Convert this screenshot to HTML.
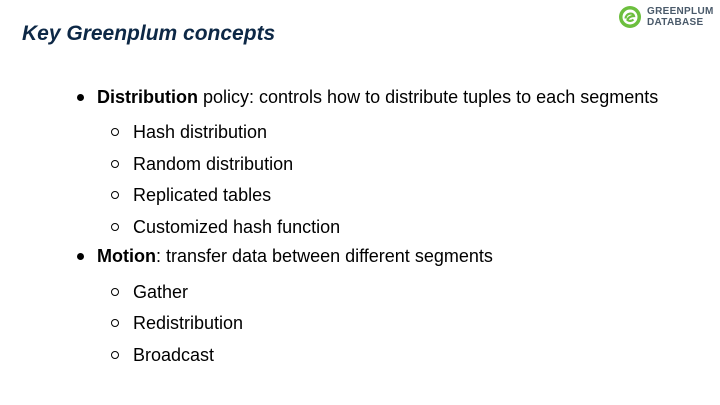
<!DOCTYPE html>
<html><head><style>
body{margin:0;width:720px;height:405px;background:#fff;position:relative;overflow:hidden;font-family:"Liberation Sans",sans-serif;color:#000}
.t{position:absolute;left:22px;top:22px;font-size:21px;font-weight:bold;font-style:italic;color:#0d2846;font-family:"Liberation Sans",sans-serif}
.l{position:absolute;font-size:18px;line-height:20px;white-space:nowrap}
.d{position:absolute;width:7px;height:7px;border-radius:50%;background:#000}
.c{position:absolute;width:6px;height:6px;border-radius:50%;border:1.5px solid #000}
.logo{position:absolute;left:618px;top:5px}
.lt{position:absolute;left:647px;top:6px;font-size:10px;font-weight:bold;color:#4a5a6a;line-height:11px;letter-spacing:0.3px}
</style></head><body>
<div class="t">Key Greenplum concepts</div>
<svg class="logo" width="24" height="24" viewBox="0 0 24 24"><circle cx="12" cy="12" r="11" fill="#6cbf3e"/><circle cx="12" cy="12" r="7.5" fill="#fff"/><path d="M7.5 13.5 C8 8,15 7,16 11 C13 11,10 12.5,9.5 15 C11 16.5,14 16,15.5 14.5" stroke="#6cbf3e" stroke-width="2.2" fill="none"/></svg>
<div class="lt">GREENPLUM<br>DATABASE</div>
<div class="d" style="left:77px;top:94px"></div>
<div class="l" style="left:97px;top:87px"><b>Distribution</b> policy: controls how to distribute tuples to each segments</div>
<div class="c" style="left:111px;top:128px"></div><div class="l" style="left:133px;top:122px">Hash distribution</div>
<div class="c" style="left:111px;top:160px"></div><div class="l" style="left:133px;top:154px">Random distribution</div>
<div class="c" style="left:111px;top:191px"></div><div class="l" style="left:133px;top:185px">Replicated tables</div>
<div class="c" style="left:111px;top:223px"></div><div class="l" style="left:133px;top:217px">Customized hash function</div>
<div class="d" style="left:77px;top:253px"></div>
<div class="l" style="left:97px;top:246px"><b>Motion</b>: transfer data between different segments</div>
<div class="c" style="left:111px;top:288px"></div><div class="l" style="left:133px;top:282px">Gather</div>
<div class="c" style="left:111px;top:319px"></div><div class="l" style="left:133px;top:313px">Redistribution</div>
<div class="c" style="left:111px;top:351px"></div><div class="l" style="left:133px;top:345px">Broadcast</div>
</body></html>
